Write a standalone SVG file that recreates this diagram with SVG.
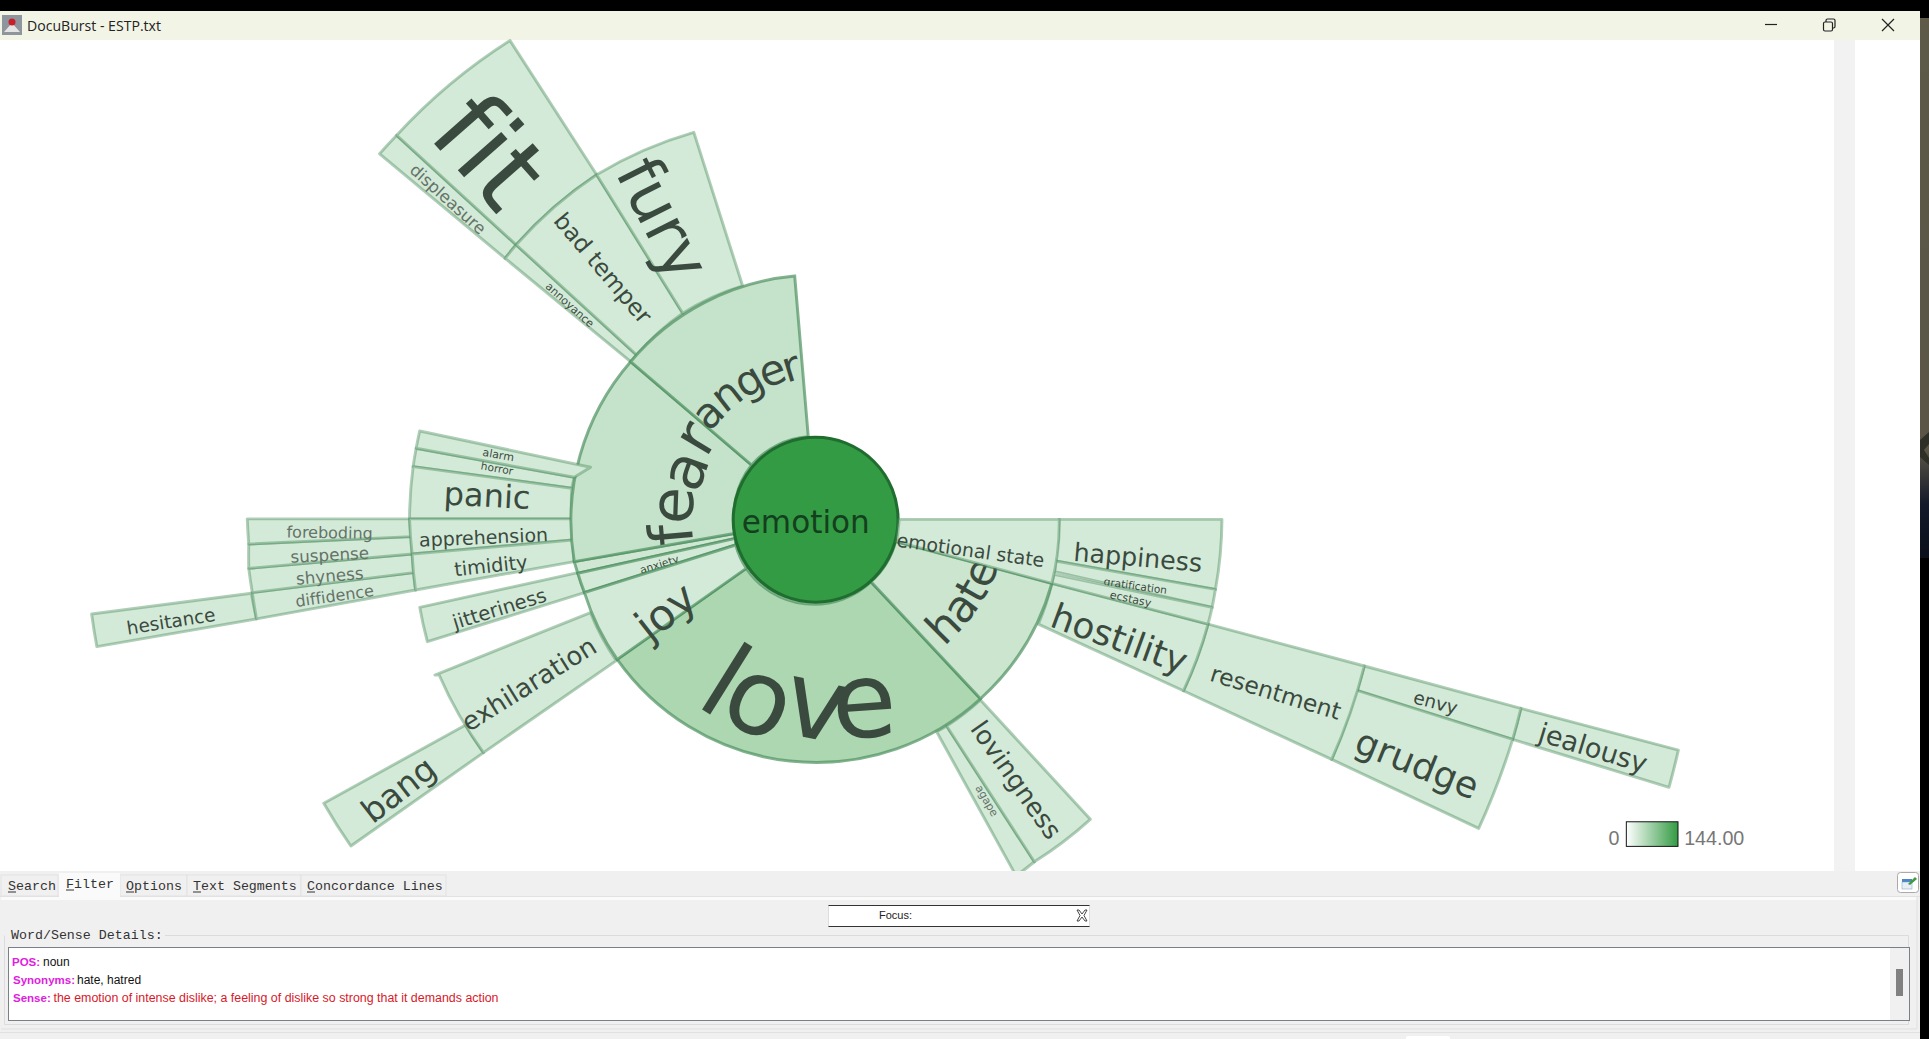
<svg xmlns="http://www.w3.org/2000/svg" width="1929" height="1039" viewBox="0 0 1929 1039">
<style>
.w{fill:#d4ead8;stroke:#4f9161;stroke-opacity:.45;stroke-width:2.4;stroke-linejoin:round}
.r{fill:#c5e2ca;stroke:#4f9161;stroke-opacity:.7;stroke-width:2.4}
.l{font-family:"DejaVu Sans",sans-serif;text-anchor:middle;dominant-baseline:central;fill:#3b4a3f;font-variant-ligatures:none}
.c{font-family:"DejaVu Sans",sans-serif;fill:#3b4a3f;font-variant-ligatures:none}
.g{fill:#647368}
.ui{font-family:"Liberation Mono","DejaVu Sans Mono",monospace;font-size:13.3px;fill:#333}
.d{font-family:"Liberation Sans",Arial,sans-serif;font-size:12px}
.m{fill:#e020e0;font-weight:bold;font-size:11.5px}
</style>
<defs>
<linearGradient id="lg"><stop offset="0" stop-color="#fff"/><stop offset="1" stop-color="#339b43"/></linearGradient>
<linearGradient id="edge" x1="0" y1="0" x2="0" y2="1"><stop offset="0" stop-color="#5d5a49"/><stop offset=".8" stop-color="#5a5547"/><stop offset=".9" stop-color="#14192a"/><stop offset="1" stop-color="#0a0f1a"/></linearGradient>
</defs>
<rect width="1929" height="1039" fill="#000"/>
<rect x="0" y="40" width="1920" height="831" fill="#fff"/>
<rect x="1920" y="18" width="9" height="540" fill="url(#edge)"/>
<path d="M1920 440l9-8v12l-5 6 5 8v7l-9-8z" fill="#2e3028"/>
<rect x="1834" y="40" width="21" height="831" fill="#f2f2f2"/>

<g id="titlebar">
<rect x="0" y="11" width="1920" height="29" fill="#f2f4e6"/>
<rect x="2" y="15" width="20" height="20" fill="#8f959c"/>
<path d="M4 32l8-9 8 9z" fill="#e4e4e4"/>
<circle cx="12" cy="22" r="3.500" fill="#c8202a"/>
<text x="27" y="31" font-family="Open Sans,Noto Sans,sans-serif" font-size="15" fill="#222" textLength="134" lengthAdjust="spacingAndGlyphs">DocuBurst - ESTP.txt</text>
<path d="M1765 24.500h12" stroke="#222" stroke-width="1.200"/>
<rect x="1823.500" y="22" width="9" height="9" rx="1.500" fill="none" stroke="#222" stroke-width="1.200"/>
<path d="M1826 22v-1.500q0-1.500 1.500-1.500h6q1.500 0 1.500 1.500v6q0 1.500-1.500 1.500h-1.500" fill="none" stroke="#222" stroke-width="1.200"/>
<path d="M1882 19l12 12M1894 19l-12 12" stroke="#222" stroke-width="1.200"/>
</g>

<g id="chart" transform="scale(1.2302)">
<g id="n-jealousy"><path class="w" d="M1364.300 609.700A728 728 0 0 1 1356.700 640L1229.600 601A595 595 0 0 0 1236.300 575.800Z"/><text class="l" transform="translate(1295 608) rotate(17)" font-size="22">jealousy</text></g>
<g id="n-envy"><path class="w" d="M1236.300 575.800A595 595 0 0 1 1229.600 601L1100 560.500L1103.500 560.500A462 462 0 0 0 1109 541.400Z"/><text class="l" transform="translate(1167 571) rotate(15)" font-size="15">envy</text></g>
<g id="n-grudge"><path class="w" d="M1229.600 601A595 595 0 0 1 1202 673.400L1082.500 617.300A462 462 0 0 0 1102.500 561Z"/><text class="l" transform="translate(1152 621) rotate(22)" font-size="29.500">grudge</text></g>
<g id="n-resentment"><path class="w" d="M1109 541.400A462 462 0 0 1 1082.500 617.300L962 561.500A330 330 0 0 0 982 507.300Z"/><text class="l" transform="translate(1037 563) rotate(17)" font-size="19">resentment</text></g>
<g id="n-hesitance"><path class="w" d="M78.700 525.600A595 595 0 0 1 74.500 499.100L204.300 482.300A462 462 0 0 0 208.500 503.100Z"/><text class="l" transform="translate(139 505) rotate(-9)" font-size="15">hesitance</text></g>
<g id="n-diffidence"><path class="w" d="M208.500 503.100A462 462 0 0 1 205.100 481.700L336.200 465.500A330 330 0 0 0 337.800 479.600Z"/><text class="l g" transform="translate(272 484.500) rotate(-8)" font-size="13">diffidence</text></g>
<g id="n-shyness"><path class="w" d="M205.100 481.700A462 462 0 0 1 202.200 462L335 450.300A330 330 0 0 0 336.200 465.500Z"/><text class="l g" transform="translate(268 468) rotate(-5)" font-size="13.600">shyness</text></g>
<g id="n-suspense"><path class="w" d="M202.200 462A462 462 0 0 1 202.200 442.200L334.100 436.200A330 330 0 0 0 335 450.300Z"/><text class="l g" transform="translate(268 451) rotate(-3)" font-size="13.600">suspense</text></g>
<g id="n-foreboding"><path class="w" d="M202.200 442.200A462 462 0 0 1 201 421.800L332.900 421.800A330 330 0 0 0 334.100 436.200Z"/><text class="l g" transform="translate(268 433) rotate(1)" font-size="13">foreboding</text></g>
<g id="n-bang"><path class="w" d="M285.200 687.700A462 462 0 0 1 263.200 653L378.500 589.300A330 330 0 0 0 393 611.800Z"/><text class="l" transform="translate(324 642) rotate(-38)" font-size="27">bang</text></g>
<g id="n-displeasure"><path class="w" d="M308.600 125A462 462 0 0 1 322.500 110L419.600 199A330 330 0 0 0 410.600 210Z"/><text class="l g" transform="translate(364 162) rotate(42)" font-size="13.500">displeasure</text></g>
<g id="n-fit"><path class="w" d="M322.500 110A462 462 0 0 1 414.600 33L485 142A330 330 0 0 0 419.600 199Z"/><text class="l" transform="translate(398 123) rotate(48.600)" font-size="86">fit</text></g>
<g id="n-annoyance"><path class="w" d="M410.600 210A330 330 0 0 1 419.600 199L517.600 288.600A198 198 0 0 0 512.600 294Z"/><text class="l" transform="translate(463 248) rotate(42)" font-size="9">annoyance</text></g>
<g id="n-bad-temper"><path class="w" d="M419.600 199A330 330 0 0 1 485 142L555 254.700A198 198 0 0 0 517.600 288.600Z"/><text class="l" transform="translate(490 218) rotate(49.700)" font-size="19">bad temper</text></g>
<g id="n-fury"><path class="w" d="M485 142A330 330 0 0 1 564 107.600L603.700 232.500A198 198 0 0 0 555 254.700Z"/><text class="l" transform="translate(539 178) rotate(63.300)" font-size="52">fury</text></g>
<g id="n-horror"><path class="w" d="M335.800 379.300A330 330 0 0 1 338.300 364.400L466.800 388A198 198 0 0 0 464.800 396.900Z"/><text class="l" transform="translate(404 381) rotate(10)" font-size="8.700">horror</text></g>
<g id="n-panic"><path class="w" d="M332.900 421.800A330 330 0 0 1 335.800 379.300L464.800 396.900A198 198 0 0 0 464.800 421.800Z"/><text class="l" transform="translate(396 403) rotate(3)" font-size="26">panic</text></g>
<g id="n-apprehension"><path class="w" d="M335 450.300A330 330 0 0 1 332.900 421.800L464.800 421.800A198 198 0 0 0 465.600 439Z"/><text class="l" transform="translate(393 436.500) rotate(-2.500)" font-size="15.400">apprehension</text></g>
<g id="n-timidity"><path class="w" d="M337.800 479.600A330 330 0 0 1 335 450.300L465.600 439A198 198 0 0 0 466.800 456.500Z"/><text class="l" transform="translate(399 460) rotate(-6)" font-size="15.700">timidity</text></g>
<g id="n-jitteriness"><path class="w" d="M347.400 521.600A330 330 0 0 1 341.200 493.700L469.700 465.500A198 198 0 0 0 475.100 481.700Z"/><text class="l" transform="translate(406 495) rotate(-17)" font-size="16">jitteriness</text></g>
<g id="n-exhilaration"><path class="w" d="M393 611.800A330 330 0 0 1 357 548.700L353.500 548.700L480 498A198 198 0 0 0 501 537Z"/><text class="l" transform="translate(430 556) rotate(-32)" font-size="21">exhilaration</text></g>
<g id="n-happiness"><path class="w" d="M993.300 422.200A330 330 0 0 1 988 479.100L858 456A198 198 0 0 0 860.900 422.200Z"/><text class="l" transform="translate(925 453) rotate(5)" font-size="20.600">happiness</text></g>
<g id="n-gratification"><path class="w" d="M988 479.100A330 330 0 0 1 985.300 493.700L857.300 464.700L858 456Z"/><text class="l" transform="translate(923 476) rotate(8)" font-size="8.600">gratification</text></g>
<g id="n-hostility"><path class="w" d="M982 507.300A330 330 0 0 1 962 561.500L844 507.300A198 198 0 0 0 855 474.200Z"/><text class="l" transform="translate(910 519) rotate(20)" font-size="29">hostility</text></g>
<g id="n-agape"><path class="w" d="M840.800 700.500A330 330 0 0 1 826 712L761.400 594.800A198 198 0 0 0 769.500 590.200Z"/><text class="l g" transform="translate(802 651) rotate(60)" font-size="9">agape</text></g>
<g id="n-lovingness"><path class="w" d="M886.300 666A330 330 0 0 1 840.800 700.500L769.500 590.200A198 198 0 0 0 797 569Z"/><text class="l" transform="translate(826 634) rotate(55)" font-size="21">lovingness</text></g>

<g id="n-love"><path class="r" style="fill:#acd7b0" d="M797 568A198 198 0 0 1 501.700 536L606.600 462A67 67 0 0 0 708 472.900Z"/><text class="c" x="563.900 582.300 633.100 677.900" y="572.500 583.800 594.600 600.900" rotate="32 24 12 -4" font-size="85.400">love</text></g>
<g id="n-sliver"><path class="r" style="fill:#cfe7d3" d="M469.700 466A198 198 0 0 1 466.800 456.500L598 433.500A67 67 0 0 0 598 437.600Z"/></g>
<g id="n-anxiety"><path class="r" style="fill:#d4ead8" d="M475.100 481.700A198 198 0 0 1 469.700 466L598 437.600A67 67 0 0 0 598 443Z"/><text class="l" transform="translate(536 459) rotate(-17)" font-size="8.800">anxiety</text></g>
<g id="n-joy"><path class="r" style="fill:#d4ead8" d="M501.700 536A198 198 0 0 1 475.100 481.700L598 443A67 67 0 0 0 606.600 462Z"/><text class="l" transform="translate(541 497) rotate(-38)" font-size="35">joy</text></g>
<g id="n-fear"><path class="r" d="M466.800 456.500A198 198 0 0 1 512.600 294L611 378A67 67 0 0 0 598 433.500Z"/><text class="c" x="563.600 562.800 566.900 574" y="441.700 426.400 402 372.900" rotate="-95 -88 -70 -59" font-size="48.800">fear</text></g>
<g id="n-anger"><path class="r" d="M512.600 294A198 198 0 0 1 646 224.400L657 355A67 67 0 0 0 611 378Z"/><text class="c" x="576.200 589.200 605 621.700 639.500" y="351.400 336.500 324.800 315.900 311.200" rotate="-45 -38 -30 -20 -17" font-size="34.100">anger</text></g>
<g id="n-hate"><path class="r" style="fill:#cbe5cf" d="M855 474.200A198 198 0 0 1 797 568L708 472.900A67 67 0 0 0 728 440.300Z"/><text class="c" x="767.600 783.700 796.900 803.900" y="525.800 509.700 492.100 480" rotate="-45 -53 -60 -68" font-size="36">hate</text></g>
<g id="n-alarm"><path class="w" d="M338.300 364.400A330 330 0 0 1 341.200 350.300L480 379.800L466.800 388Z"/><text class="l" transform="translate(405 370) rotate(10)" font-size="9">alarm</text></g>
<g id="n-ecstasy"><path class="w" d="M985.300 493.700A330 330 0 0 1 982 507.300L855 474.200L857 466L846 464.700Z"/><text class="l" transform="translate(919 487) rotate(12)" font-size="9">ecstasy</text></g>
<g id="n-emotion"><circle cx="663" cy="422.500" r="67" fill="#339b43" stroke="#1f6e30" stroke-width="2.500"/><text class="l" x="655" y="424" font-size="25.300" style="fill:#143f1e">emotion</text></g>
<g id="n-emotional-state"><path class="r" style="fill:#d4ead8;stroke-opacity:.45" d="M861 422.200A198 198 0 0 1 855 474.200L729 440.300L731 422.200Z"/><text class="l" transform="translate(789 447) rotate(8)" font-size="15.400">emotional state</text></g>

<g id="legend">
<text x="1312" y="687" font-family="Liberation Sans,Arial,sans-serif" font-size="16" fill="#777" text-anchor="middle">0</text>
<rect x="1322" y="668" width="42" height="20" fill="url(#lg)" stroke="#111" stroke-width=".8"/>
<text x="1369" y="687" font-family="Liberation Sans,Arial,sans-serif" font-size="16" fill="#777">144.00</text>
</g>
</g>

<g id="panel">
<rect x="0" y="871" width="1920" height="168" fill="#f0f0f0"/>
<path d="M0 896.500H1920" stroke="#e2e2e2"/>
<rect x="1" y="897" width="1916" height="3" fill="#fafafa"/>
<path d="M1917 897V1029H1M0 1032.500H1920" fill="none" stroke="#e0e0e0"/>
<rect x="1" y="875" width="57" height="21" fill="#f0f0f0" stroke="#e2e2e2"/>
<rect x="120" y="875" width="67" height="21" fill="#f0f0f0" stroke="#e2e2e2"/>
<rect x="187" y="875" width="114" height="21" fill="#f0f0f0" stroke="#e2e2e2"/>
<rect x="301" y="875" width="145" height="21" fill="#f0f0f0" stroke="#e2e2e2"/>
<rect x="59" y="873" width="61" height="27" fill="#fafafa"/>
<text class="ui" x="8" y="890">Search</text>
<text class="ui" x="66" y="888">Filter</text>
<text class="ui" x="126" y="890">Options</text>
<text class="ui" x="193" y="890">Text Segments</text>
<text class="ui" x="307" y="890">Concordance Lines</text>
<path d="M8 892h8M66 890h8M126 892h8M193 892h8M307 892h8" stroke="#333"/>
<rect x="828.500" y="905.500" width="261" height="21" fill="#fff" stroke="#ddd"/>
<path d="M828.500 905.500h261M828.500 926.500h261" stroke="#333"/>
<text x="879" y="919" font-family="Liberation Sans,Arial,sans-serif" font-size="11" fill="#222">Focus:</text>
<path d="M1077 910h2l3 4 3-4h2l-3 5.500 3 5.500h-2l-3-4-3 4h-2l3-5.500z" fill="#fff" stroke="#333" stroke-width=".9"/>
<path d="M4.500 935.500V1024.500H1908.500V935.500H165" fill="none" stroke="#dcdcdc"/>
<text class="ui" x="11" y="939">Word/Sense Details:</text>
<rect x="8.500" y="947.500" width="1901" height="73" fill="#fff" stroke="#7a7f88"/>
<rect x="1890" y="948" width="19" height="72" fill="#f0f0f0"/>
<rect x="1896" y="969" width="7" height="27" fill="#808080"/>
<text class="d m" x="12" y="966">POS:</text><text class="d" x="43" y="966" fill="#111">noun</text>
<text class="d m" x="13" y="984">Synonyms:</text><text class="d" x="77" y="984" fill="#111">hate, hatred</text>
<text class="d m" x="13" y="1002">Sense:</text><text class="d" x="53.500" y="1002" fill="#d9182a" textLength="445" lengthAdjust="spacingAndGlyphs">the emotion of intense dislike; a feeling of dislike so strong that it demands action</text>
<rect x="1897.500" y="872.500" width="21" height="20" rx="3" fill="#fff" stroke="#aaa"/>
<rect x="1902" y="879" width="10" height="3" fill="#4a86c8"/>
<rect x="1902" y="882" width="10" height="7" fill="#e8eef5" stroke="#7a9cc0" stroke-width=".5"/>
<path d="M1908 884l7-7 2 2-7 6z" fill="#3f9a3f"/>
<path d="M1406 1039v-1q0-2 2-2h40q2 0 2 2v1z" fill="#fff"/>
</g>
</svg>
